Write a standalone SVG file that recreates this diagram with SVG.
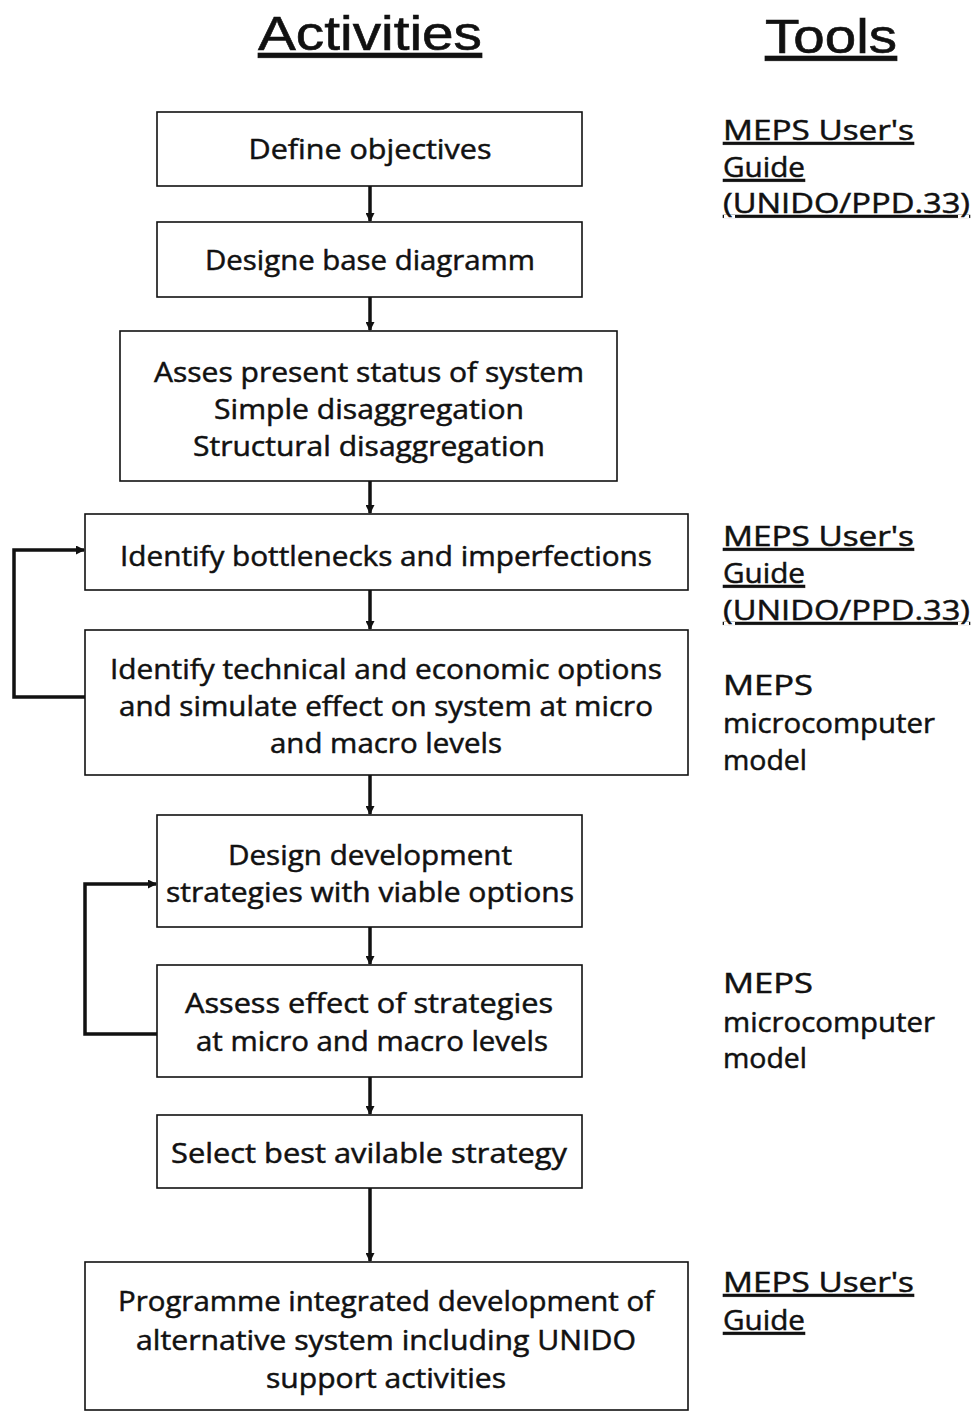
<svg xmlns="http://www.w3.org/2000/svg" width="973" height="1413" viewBox="0 0 973 1413">
<style>
.box{fill:#fff;stroke:#111;stroke-width:1.6}
.t{font-family:"Open Sans","Liberation Sans",sans-serif;font-size:28px;fill:#111;stroke:#111;stroke-width:0.5;text-anchor:middle}
.tool{font-family:"Open Sans","Liberation Sans",sans-serif;font-size:28px;fill:#111;stroke:#111;stroke-width:0.5}
.u{text-decoration:underline}
.h{font-family:"Liberation Sans Narrow","Liberation Sans",sans-serif;font-size:48px;fill:#111;stroke:#111;stroke-width:0.6;text-anchor:middle;text-decoration:underline}
.c{fill:none;stroke:#111;stroke-width:3.5}
</style>
<defs>
<marker id="ah" markerWidth="9" markerHeight="9" refX="8" refY="4.5" orient="auto" markerUnits="userSpaceOnUse">
<path d="M0,0 L9,4.5 L0,9 z" fill="#111"/>
</marker>
</defs>
<rect width="973" height="1413" fill="#fff"/>
<text class="h" x="370" y="50" textLength="224" lengthAdjust="spacingAndGlyphs">Activities</text>
<text class="h" x="831" y="53" textLength="132" lengthAdjust="spacingAndGlyphs">Tools</text>

<g id="n1"><rect class="box" x="157" y="112" width="425" height="74"/><text class="t" x="370" y="159" textLength="243" lengthAdjust="spacingAndGlyphs">Define objectives</text></g>
<g id="n2"><rect class="box" x="157" y="222" width="425" height="75"/><text class="t" x="370" y="270" textLength="330" lengthAdjust="spacingAndGlyphs">Designe base diagramm</text></g>
<g id="n3"><rect class="box" x="120" y="331" width="497" height="150"/>
<text class="t" x="369" y="382" textLength="430" lengthAdjust="spacingAndGlyphs">Asses present status of system</text>
<text class="t" x="369" y="419" textLength="310" lengthAdjust="spacingAndGlyphs">Simple disaggregation</text>
<text class="t" x="369" y="456" textLength="352" lengthAdjust="spacingAndGlyphs">Structural disaggregation</text></g>
<g id="n4"><rect class="box" x="85" y="514" width="603" height="76"/><text class="t" x="386" y="566" textLength="532" lengthAdjust="spacingAndGlyphs">Identify bottlenecks and imperfections</text></g>
<g id="n5"><rect class="box" x="85" y="630" width="603" height="145"/>
<text class="t" x="386" y="679" textLength="552" lengthAdjust="spacingAndGlyphs">Identify technical and economic options</text>
<text class="t" x="386" y="716" textLength="534" lengthAdjust="spacingAndGlyphs">and simulate effect on system at micro</text>
<text class="t" x="386" y="753" textLength="232" lengthAdjust="spacingAndGlyphs">and macro levels</text></g>
<g id="n6"><rect class="box" x="157" y="815" width="425" height="112"/>
<text class="t" x="370" y="865" textLength="284" lengthAdjust="spacingAndGlyphs">Design development</text>
<text class="t" x="370" y="902" textLength="408" lengthAdjust="spacingAndGlyphs">strategies with viable options</text></g>
<g id="n7"><rect class="box" x="157" y="965" width="425" height="112"/>
<text class="t" x="369" y="1013" textLength="368" lengthAdjust="spacingAndGlyphs">Assess effect of strategies</text>
<text class="t" x="372" y="1051" textLength="352" lengthAdjust="spacingAndGlyphs">at micro and macro levels</text></g>
<g id="n8"><rect class="box" x="157" y="1115" width="425" height="73"/><text class="t" x="369" y="1163" textLength="396" lengthAdjust="spacingAndGlyphs">Select best avilable strategy</text></g>
<g id="n9"><rect class="box" x="85" y="1262" width="603" height="148"/>
<text class="t" x="386" y="1311" textLength="536" lengthAdjust="spacingAndGlyphs">Programme integrated development of</text>
<text class="t" x="386" y="1350" textLength="500" lengthAdjust="spacingAndGlyphs">alternative system including UNIDO</text>
<text class="t" x="386" y="1388" textLength="240" lengthAdjust="spacingAndGlyphs">support activities</text></g>

<g id="tools">
<text class="tool u" x="723" y="140" textLength="191" lengthAdjust="spacingAndGlyphs">MEPS User's</text>
<text class="tool u" x="723" y="177" textLength="82" lengthAdjust="spacingAndGlyphs">Guide</text>
<text class="tool u" x="723" y="213" textLength="247" lengthAdjust="spacingAndGlyphs">(UNIDO/PPD.33)</text>
<text class="tool u" x="723" y="546" textLength="191" lengthAdjust="spacingAndGlyphs">MEPS User's</text>
<text class="tool u" x="723" y="583" textLength="82" lengthAdjust="spacingAndGlyphs">Guide</text>
<text class="tool u" x="723" y="620" textLength="247" lengthAdjust="spacingAndGlyphs">(UNIDO/PPD.33)</text>
<text class="tool" x="723" y="695" textLength="90" lengthAdjust="spacingAndGlyphs">MEPS</text>
<text class="tool" x="723" y="733" textLength="212" lengthAdjust="spacingAndGlyphs">microcomputer</text>
<text class="tool" x="723" y="770" textLength="84" lengthAdjust="spacingAndGlyphs">model</text>
<text class="tool" x="723" y="993" textLength="90" lengthAdjust="spacingAndGlyphs">MEPS</text>
<text class="tool" x="723" y="1032" textLength="212" lengthAdjust="spacingAndGlyphs">microcomputer</text>
<text class="tool" x="723" y="1068" textLength="84" lengthAdjust="spacingAndGlyphs">model</text>
<text class="tool u" x="723" y="1292" textLength="191" lengthAdjust="spacingAndGlyphs">MEPS User's</text>
<text class="tool u" x="723" y="1330" textLength="82" lengthAdjust="spacingAndGlyphs">Guide</text>
</g>

<g id="connectors">
<line class="c" x1="370" y1="186" x2="370" y2="221" marker-end="url(#ah)"/>
<line class="c" x1="370" y1="297" x2="370" y2="330" marker-end="url(#ah)"/>
<line class="c" x1="370" y1="481" x2="370" y2="513" marker-end="url(#ah)"/>
<line class="c" x1="370" y1="590" x2="370" y2="629" marker-end="url(#ah)"/>
<line class="c" x1="370" y1="775" x2="370" y2="814" marker-end="url(#ah)"/>
<line class="c" x1="370" y1="927" x2="370" y2="964" marker-end="url(#ah)"/>
<line class="c" x1="370" y1="1077" x2="370" y2="1114" marker-end="url(#ah)"/>
<line class="c" x1="370" y1="1188" x2="370" y2="1261" marker-end="url(#ah)"/>
<path class="c" d="M85,697 H14 V550 H84" marker-end="url(#ah)"/>
<path class="c" d="M157,1034 H85 V884 H156" marker-end="url(#ah)"/>
</g>
</svg>
